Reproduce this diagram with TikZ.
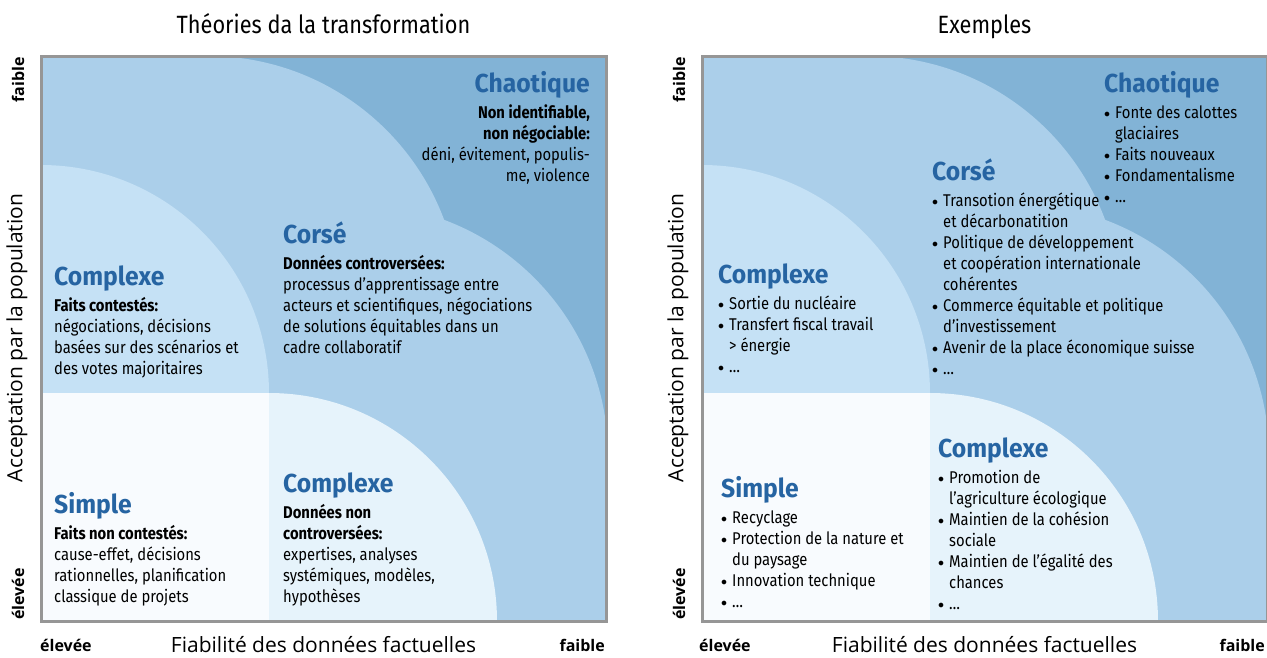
\documentclass[tikz,border=0pt]{standalone}
\usepackage{fontspec}
\setmainfont{Fira Sans}[FakeStretch=0.87]
\newfontfamily\headfont{Fira Sans}[FakeStretch=0.95]
\newfontfamily\axisfont{Open Sans}
\usetikzlibrary{positioning}

\definecolor{chaosblue}{RGB}{130,179,214}
\definecolor{corseblue}{RGB}{171,207,234}
\definecolor{complexblue}{RGB}{197,225,245}
\definecolor{complexlight}{RGB}{230,243,251}
\definecolor{simplewhite}{RGB}{248,251,254}
\definecolor{headblue}{RGB}{38,100,162}
\definecolor{framegray}{RGB}{150,150,150}

\tikzset{
  heading/.style={font=\headfont\fontsize{26}{30}\selectfont\bfseries, text=headblue, inner sep=0pt},
  body/.style={font=\fontsize{17}{21}\selectfont, inner sep=0pt},
  axislabel/.style={font=\axisfont\fontsize{21}{24}\selectfont, inner sep=0pt},
  tag/.style={font=\axisfont\fontsize{16}{18}\selectfont\bfseries, inner sep=0pt},
  paneltitle/.style={font=\fontsize{25}{28}\selectfont, inner sep=0pt},
  frame/.style={draw=framegray, line width=3pt}
}
\newcommand{\itm}{\makebox[11pt][l]{\raisebox{1.2pt}{$\scriptstyle\bullet$}}}
\newcommand{\cont}{\hspace*{11pt}}

\begin{document}
\begin{tikzpicture}[x=1pt,y=-1pt]
\useasboundingbox (0,0) rectangle (1267,657);

% left panel background
\begin{scope}
  \clip (41,56) rectangle (606,621);
  \fill[chaosblue] (41,56) rectangle (606,621);
  \fill[corseblue] (208,308) circle[radius=252pt];
  \fill[corseblue] (356,456) circle[radius=252pt];
  \fill[corseblue] (41,56) rectangle (208,621);
  \fill[corseblue] (41,456) rectangle (606,621);
  \fill[complexblue] (41,393) circle[radius=228pt];
  \fill[complexlight] (269,621) circle[radius=228pt];
  \fill[simplewhite] (41,393) rectangle (269,621);
\end{scope}
\draw[frame] (41,56) rectangle (606,621);

% right panel background
\begin{scope}[xshift=661pt]
  \clip (41,56) rectangle (606,621);
  \fill[chaosblue] (41,56) rectangle (606,621);
  \fill[corseblue] (208,308) circle[radius=252pt];
  \fill[corseblue] (356,456) circle[radius=252pt];
  \fill[corseblue] (41,56) rectangle (208,621);
  \fill[corseblue] (41,456) rectangle (606,621);
  \fill[complexblue] (41,393) circle[radius=228pt];
  \fill[complexlight] (269,621) circle[radius=228pt];
  \fill[simplewhite] (41,393) rectangle (269,621);
\end{scope}
\draw[frame] (702,56) rectangle (1267,621);

% titles and axes
\node (ltitle) [paneltitle, anchor=base] at (323.5,33) {Théories da la transformation};
\node (rtitle) [paneltitle, anchor=base] at (984.5,33) {Exemples};

\node (lyaxis) [axislabel, rotate=90] at (17,338) {Acceptation par la population};
\node (lyhigh) [tag, rotate=90] at (18,80) {faible};
\node (lylow) [tag, rotate=90] at (18,594) {élevée};
\node (lxaxis) [axislabel, anchor=base] at (323.5,652) {Fiabilité des données factuelles};
\node (lxlow) [tag, anchor=base west] at (40,651) {élevée};
\node (lxhigh) [tag, anchor=base east] at (605,651) {faible};

\node (ryaxis) [axislabel, rotate=90] at (678,338) {Acceptation par la population};
\node (ryhigh) [tag, rotate=90] at (679,80) {faible};
\node (rylow) [tag, rotate=90] at (679,594) {élevée};
\node (rxaxis) [axislabel, anchor=base] at (984.5,652) {Fiabilité des données factuelles};
\node (rxlow) [tag, anchor=base west] at (699,651) {élevée};
\node (rxhigh) [tag, anchor=base east] at (1265,651) {faible};

% left panel texts
\node (lchaos) [heading, anchor=base east] at (590,92) {Chaotique};
\node (lchaostxt) [body, align=right, below left=12pt and 0pt of lchaos.base east]
  {\strut\textbf{Non identifiable,}\\ \textbf{non négociable:}\\ déni, évitement, populis-\\ me, violence};

\node (lcorse) [heading, anchor=base west] at (283,243) {Corsé};
\node (lcorsetxt) [body, align=left, below right=12pt and 0pt of lcorse.base west]
  {\strut\textbf{Données controversées:}\\ processus d’apprentissage entre\\ acteurs et scientifiques, négociations\\ de solutions équitables dans un\\ cadre collaboratif};

\node (lcplx) [heading, anchor=base west] at (54,285) {Complexe};
\node (lcplxtxt) [body, align=left, below right=12pt and 0pt of lcplx.base west]
  {\strut\textbf{Faits contestés:}\\ négociations, décisions\\ basées sur des scénarios et\\ des votes majoritaires};

\node (lsimple) [heading, anchor=base west] at (54,513) {Simple};
\node (lsimpletxt) [body, align=left, below right=12pt and 0pt of lsimple.base west]
  {\strut\textbf{Faits non contestés:}\\ cause-effet, décisions\\ rationnelles, planification\\ classique de projets};

\node (lcplxb) [heading, anchor=base west] at (283,492) {Complexe};
\node (lcplxbtxt) [body, align=left, below right=12pt and 0pt of lcplxb.base west]
  {\strut\textbf{Données non}\\ \textbf{controversées:}\\ expertises, analyses\\ systémiques, modèles,\\ hypothèses};

% right panel texts
\node (rchaos) [heading, anchor=base west] at (1104,92) {Chaotique};
\node (rchaostxt) [body, align=left, below right=12pt and 0pt of rchaos.base west]
  {\strut\itm Fonte des calottes\\ \cont glaciaires\\ \itm Faits nouveaux\\ \itm Fondamentalisme\\ \itm …};

\node (rcorse) [heading, anchor=base west] at (932,180) {Corsé};
\node (rcorsetxt) [body, align=left, below right=12pt and 0pt of rcorse.base west]
  {\strut\itm Transotion énergétique\\ \cont et décarbonatition\\ \itm Politique de développement\\ \cont et coopération internationale\\ \cont cohérentes\\ \itm Commerce équitable et politique\\ \cont d’investissement\\ \itm Avenir de la place économique suisse\\ \itm …};

\node (rcplx) [heading, anchor=base west] at (718,283) {Complexe};
\node (rcplxtxt) [body, align=left, below right=12pt and 0pt of rcplx.base west]
  {\strut\itm Sortie du nucléaire\\ \itm Transfert fiscal travail\\ \cont > énergie\\ \itm …};

\node (rsimple) [heading, anchor=base west] at (721,497) {Simple};
\node (rsimpletxt) [body, align=left, below right=12pt and 0pt of rsimple.base west]
  {\strut\itm Recyclage\\ \itm Protection de la nature et\\ \cont du paysage\\ \itm Innovation technique\\ \itm …};

\node (rcplxb) [heading, anchor=base west] at (938,457) {Complexe};
\node (rcplxbtxt) [body, align=left, below right=12pt and 0pt of rcplxb.base west]
  {\strut\itm Promotion de\\ \cont l’agriculture écologique\\ \itm Maintien de la cohésion\\ \cont sociale\\ \itm Maintien de l’égalité des\\ \cont chances\\ \itm …};

\end{tikzpicture}
\end{document}
